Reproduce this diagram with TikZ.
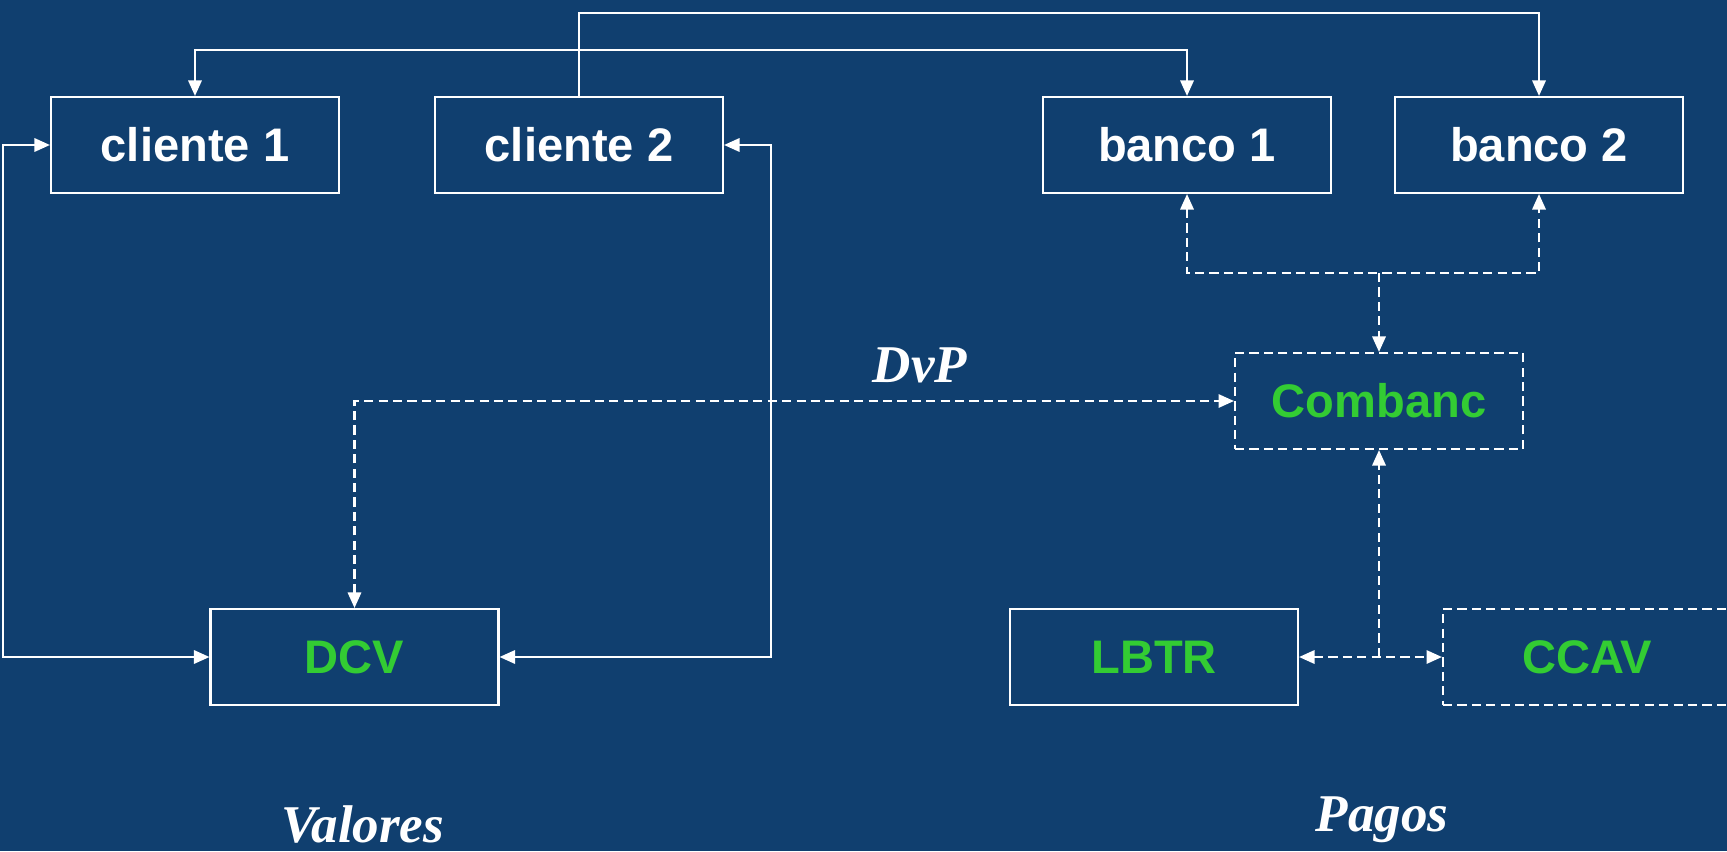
\documentclass[tikz,border=0pt]{standalone}
\usepackage{fontspec}
\setmainfont{Liberation Sans}
\newfontfamily\serifbi{Liberation Serif}
\usepackage{tikz}
\usetikzlibrary{calc}
\usetikzlibrary{arrows.meta}
\usetikzlibrary{positioning}
\definecolor{bgblue}{RGB}{16,63,111}
\definecolor{sysgreen}{RGB}{51,204,51}
\tikzset{>={Triangle[length=4.4pt,width=3.8pt]}}
\tikzset{box/.style = {rectangle, draw=white, line width=0.6pt, minimum width=2.88cm, minimum height=0.96cm, inner sep=0pt, font=\fontsize{13.4}{16}\selectfont\bfseries}}
\tikzset{dbox/.style = {box, dash pattern=on 2.6pt off 1.5pt}}
\tikzset{wire/.style = {draw=white, line width=0.6pt}}
\tikzset{dwire/.style = {wire, dash pattern=on 2.6pt off 1.5pt}}
\tikzset{tag/.style = {anchor=base, text=white, font=\fontsize{15.1}{18}\selectfont\serifbi\bfseries\itshape}}

\begin{document}
\begin{tikzpicture}
\useasboundingbox (0, 0) rectangle (17.27, 8.51);
\clip (0, 0) rectangle (17.27, 8.51);
\fill [bgblue] (0, 0) rectangle (17.27, 8.51);
% boxes
\node [box, text=white] (cl1) at (1.95, 7.06) {cliente 1};
\node [box, text=white] (cl2) at (5.79, 7.06) {cliente 2};
\node [box, text=white] (bk1) at (11.87, 7.06) {banco 1};
\node [box, text=white] (bk2) at (15.39, 7.06) {banco 2};
\node [dbox, text=sysgreen] (comb) at (13.79, 4.50) {Combanc};
\node [box, text=sysgreen] (dcv) at (3.545, 1.94) {DCV};
\node [box, text=sysgreen] (lbtr) at (11.54, 1.94) {LBTR};
\node [dbox, text=sysgreen] (ccav) at (15.87, 1.94) {CCAV};
% labels
\node [tag] (dvp) at (9.20, 4.69) {DvP};
\node [tag] (val) at (3.63, 0.09) {Valores};
\node [tag] (pag) at (13.82, 0.20) {Pagos};
% rails
\coordinate (railL) at (0.033, 0);
\coordinate (railR) at (7.71, 0);
\coordinate (topA) at (0, 8.378);
\coordinate (topB) at (0, 8.014);
\coordinate (bus) at (0, 5.78);
% solid links
\draw [<->, wire] (cl1.west) -- (cl1.west -| railL) |- (dcv.west);
\draw [<->, wire] (cl2.east) -- (cl2.east -| railR) |- (dcv.east);
\draw [->, wire] (cl2.north) |- (topA -| bk2.north) -- (bk2.north);
\draw [<->, wire] (cl1.north) |- (topB -| bk1.north) -- (bk1.north);
% dashed links
\draw [<->, dwire] (dcv.north) |- (comb.west);
\draw [<->, dwire] (bk1.south) |- (bus -| bk2.south) -- (bk2.south);
\draw [->, dwire] (comb.north |- bus) -- (comb.north);
\draw [<->, dwire] (lbtr.east) -- (ccav.west);
\draw [->, dwire] (comb.south |- lbtr.east) -- (comb.south);
\end{tikzpicture}
\end{document}
